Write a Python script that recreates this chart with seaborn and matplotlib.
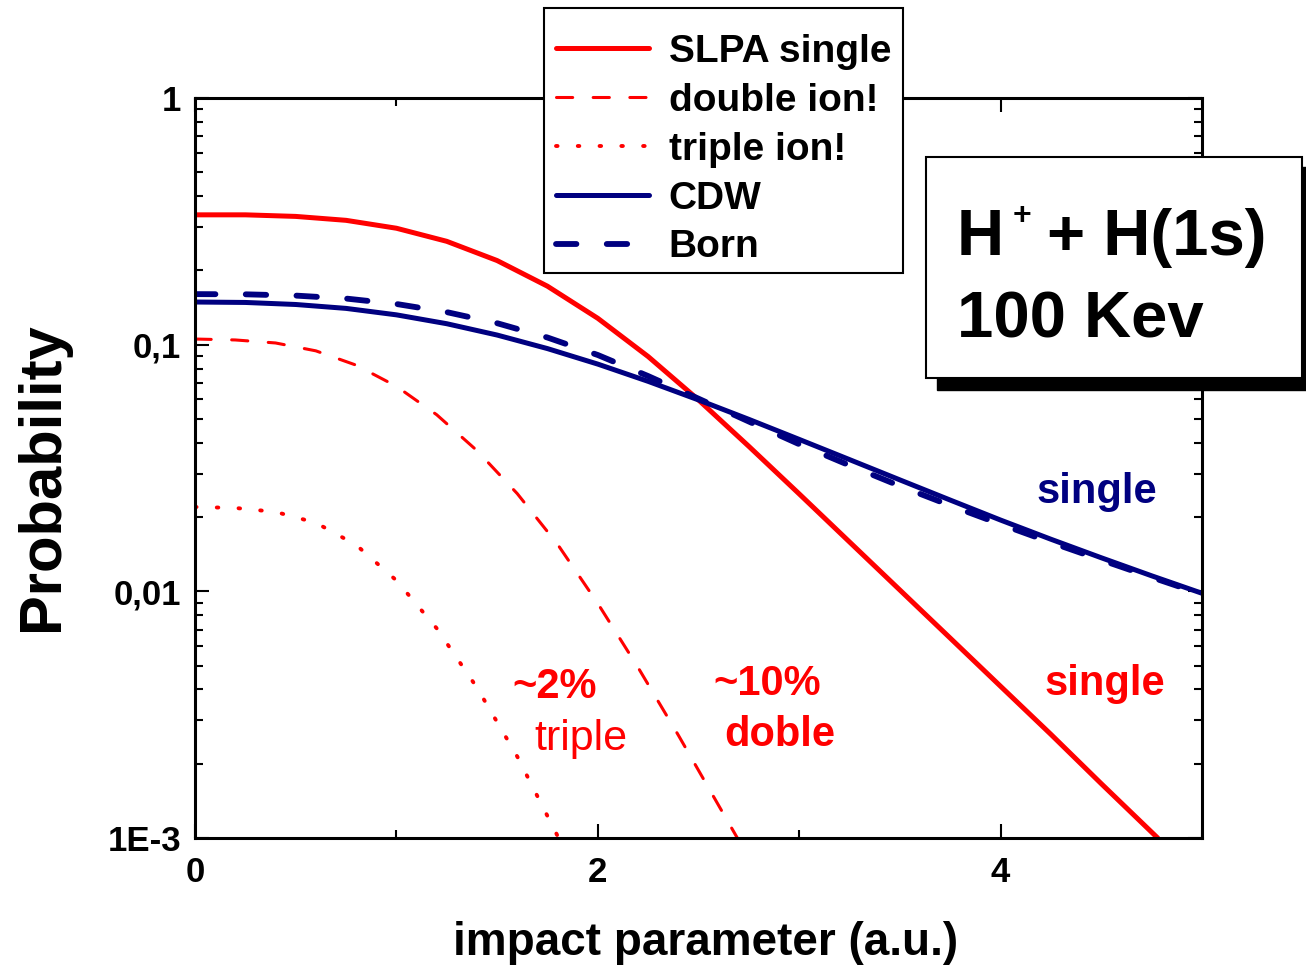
import numpy as np
import pandas as pd
import matplotlib
matplotlib.use("Agg")
import matplotlib.pyplot as plt
import seaborn as sns
from matplotlib.patches import Rectangle
from matplotlib.ticker import FixedLocator, FixedFormatter, MultipleLocator, LogLocator, NullFormatter

# ---------------- data ----------------
slpa_x = [0.0, 0.25, 0.5, 0.75, 1.0, 1.25, 1.5, 1.75, 2.0, 2.25, 2.5, 2.75, 3.0, 3.25, 3.5, 3.75,
          4.0, 4.25, 4.5, 4.78]
slpa_y = [0.336, 0.336, 0.3311, 0.3192, 0.2965, 0.2624, 0.2193, 0.1726, 0.1279, 0.0895, 0.0597,
          0.0387, 0.02483, 0.01585, 0.01012, 0.00646, 0.00412, 0.00263, 0.00166, 0.001]

double_x = [0.0, 0.2, 0.4, 0.6, 0.8, 1.0, 1.2, 1.4, 1.6, 1.8, 2.0, 2.2, 2.4, 2.6, 2.7]
double_y = [0.1054, 0.1045, 0.1016, 0.0944, 0.0826, 0.0678, 0.0520, 0.0372, 0.0249, 0.01552, 0.00893,
            0.00491, 0.00261, 0.001355, 0.000977]

triple_x = [0.0, 0.2, 0.4, 0.6, 0.8, 1.0, 1.2, 1.4, 1.6, 1.8]
triple_y = [0.02198, 0.02178, 0.02099, 0.01897, 0.01542, 0.01107, 0.00708, 0.00407, 0.00214, 0.00102]

cdw_x = [0.0, 0.25, 0.5, 0.75, 1.0, 1.25, 1.5, 1.75, 2.0, 2.25, 2.5, 2.75, 3.0, 3.25, 3.5, 3.75,
         4.0, 4.25, 4.5, 4.75, 5.0]
cdw_y = [0.1489, 0.1483, 0.1455, 0.1403, 0.1321, 0.1216, 0.1094, 0.0964, 0.0834, 0.0710, 0.0597,
         0.0498, 0.0413, 0.0342, 0.0283, 0.02344, 0.01945, 0.01626, 0.01368, 0.01156, 0.00982]

born_x = [0.0, 0.25, 0.5, 0.75, 1.0, 1.25, 1.5, 1.75, 2.0, 2.25, 2.5, 2.75, 3.0, 3.25, 3.5, 3.75,
          4.0, 4.25, 4.5, 4.75, 5.0]
born_y = [0.1603, 0.1600, 0.1581, 0.1538, 0.1462, 0.1355, 0.1222, 0.1069, 0.0908, 0.0746, 0.0604,
          0.0488, 0.0395, 0.0324, 0.02673, 0.02228, 0.01871, 0.01578, 0.01340, 0.01140, 0.00973]

legend_labels = ["SLPA single", "double ion!", "triple ion!", "CDW", "Born"]
ytick_values = [1e-3, 1e-2, 1e-1, 1.0]
ytick_labels = ["1E-3", "0,01", "0,1", "1"]
xlabel = "impact parameter (a.u.)"
ylabel = "Probability"
box_line1_main = "H"
box_line1_sup = "+"
box_line1_rest = "+ H(1s)"
box_line2 = "100 Kev"

RED = "#FF0000"
NAVY = "#000080"

# ---------------- style ----------------
sns.set_style("ticks")
plt.rcParams['font.family'] = ['Liberation Sans', 'DejaVu Sans']
plt.rcParams['font.weight'] = 'bold'
plt.rcParams['text.color'] = 'black'
plt.rcParams['axes.labelcolor'] = 'black'
plt.rcParams['xtick.color'] = 'black'
plt.rcParams['ytick.color'] = 'black'
plt.rcParams['axes.edgecolor'] = 'black'

W, H = 1306, 967
fig = plt.figure(figsize=(W / 100, H / 100), dpi=100)
fig.patch.set_facecolor("white")
ax = fig.add_axes([195 / W, 1 - 838 / H, (1202 - 195) / W, (838 - 98) / H])

series = [
    (slpa_x, slpa_y, RED, 3.6, '-'),
    (double_x, double_y, RED, 2.2, (0, (5.3, 6.7))),
    (triple_x, triple_y, RED, 2.8, (0, (0.4, 5.2))),
    (cdw_x, cdw_y, NAVY, 3.6, '-'),
    (born_x, born_y, NAVY, 4.2, (0, (3.5, 5.2))),
]
for xs, ys, c, lw, ls in series:
    df = pd.DataFrame({"b": xs, "p": ys})
    sns.lineplot(data=df, x="b", y="p", ax=ax, color=c, linewidth=lw, linestyle=ls,
                 estimator=None, sort=False, legend=False)

for ln in ax.lines:
    ln.set_dash_capstyle('round')
    ln.set_solid_joinstyle('round')

ax.set_yscale('log')
ax.set_xlim(0, 5)
ax.set_ylim(1e-3, 1)
ax.yaxis.set_major_locator(FixedLocator(ytick_values))
ax.yaxis.set_major_formatter(FixedFormatter(ytick_labels))
ax.yaxis.set_minor_locator(LogLocator(base=10, subs=np.arange(2, 10)))
ax.yaxis.set_minor_formatter(NullFormatter())
ax.xaxis.set_major_locator(MultipleLocator(2))
ax.xaxis.set_minor_locator(MultipleLocator(1))

ax.tick_params(which='both', direction='in', top=True, right=True, width=1.5, color='black')
ax.tick_params(which='major', length=10, labelsize=25, labelcolor='black')
ax.tick_params(which='minor', length=5.5)
ax.tick_params(axis='y', which='major', pad=10)
ax.tick_params(axis='x', which='major', pad=13)
for lbl in ax.get_xticklabels() + ax.get_yticklabels():
    lbl.set_fontweight('bold')
for sp in ax.spines.values():
    sp.set_linewidth(2.2)
    sp.set_color('black')

ax.set_xlabel(xlabel, fontsize=33, fontweight='bold', color='black')
ax.set_ylabel(ylabel, fontsize=43, fontweight='bold', color='black')
ax.xaxis.set_label_coords((706 - 195) / 1007, -(921 - 838) / 740)
ax.yaxis.set_label_coords(-(195 - 70) / 1007, (838 - 477) / 740)

# annotations
ax.text(4.18, 0.0228, "single", color=NAVY, fontsize=30, fontweight='bold', va='baseline')
ax.text(4.22, 0.0038, "single", color=RED, fontsize=30, fontweight='bold', va='baseline')
ax.text(1.574, 0.0037, "~2%", color=RED, fontsize=30, fontweight='bold', va='baseline')
ax.text(1.683, 0.00228, "triple", color=RED, fontsize=31, fontweight='normal', va='baseline')
ax.text(2.572, 0.0038, "~10%", color=RED, fontsize=30, fontweight='bold', va='baseline')
ax.text(2.627, 0.00236, "doble", color=RED, fontsize=30, fontweight='bold', va='baseline')


def fx(px):
    return px / W


def fy(py):
    return 1 - py / H


# legend: separate frame + frameless legend inside it
frame = Rectangle((fx(544), fy(273)), (903 - 544) / W, (273 - 8) / H, transform=fig.transFigure,
                  facecolor='white', edgecolor='black', linewidth=1.5, zorder=18)
fig.patches.append(frame)
leg = fig.legend(ax.lines[:5], legend_labels, loc='upper left',
                 bbox_to_anchor=(fx(544), fy(22)), bbox_transform=fig.transFigure,
                 borderaxespad=0, frameon=False,
                 prop={'size': 28, 'weight': 'bold'},
                 handlelength=2.39, handletextpad=0.51, labelspacing=0.33, borderpad=0.31)
for t in leg.get_texts():
    t.set_color('black')
leg.set_zorder(20)

# title box with shadow
shadow = Rectangle((fx(937), fy(390)), 372 / W, 223 / H, transform=fig.transFigure,
                   facecolor='black', edgecolor='black', zorder=30)
box = Rectangle((fx(926), fy(378)), 376 / W, 221 / H, transform=fig.transFigure,
                facecolor='white', edgecolor='black', linewidth=1.5, zorder=31)
fig.patches.extend([shadow, box])
fig.text(fx(957), fy(255), box_line1_main, fontsize=47, fontweight='bold', va='baseline', zorder=32)
fig.text(fx(1022), fy(224), box_line1_sup, fontsize=23, fontweight='bold', va='baseline', ha='center', zorder=32)
fig.text(fx(1047), fy(255), box_line1_rest, fontsize=47, fontweight='bold', va='baseline', zorder=32)
fig.text(fx(957), fy(337), box_line2, fontsize=47, fontweight='bold', va='baseline', zorder=32)

fig.savefig("out.png", dpi=100, facecolor='white')
